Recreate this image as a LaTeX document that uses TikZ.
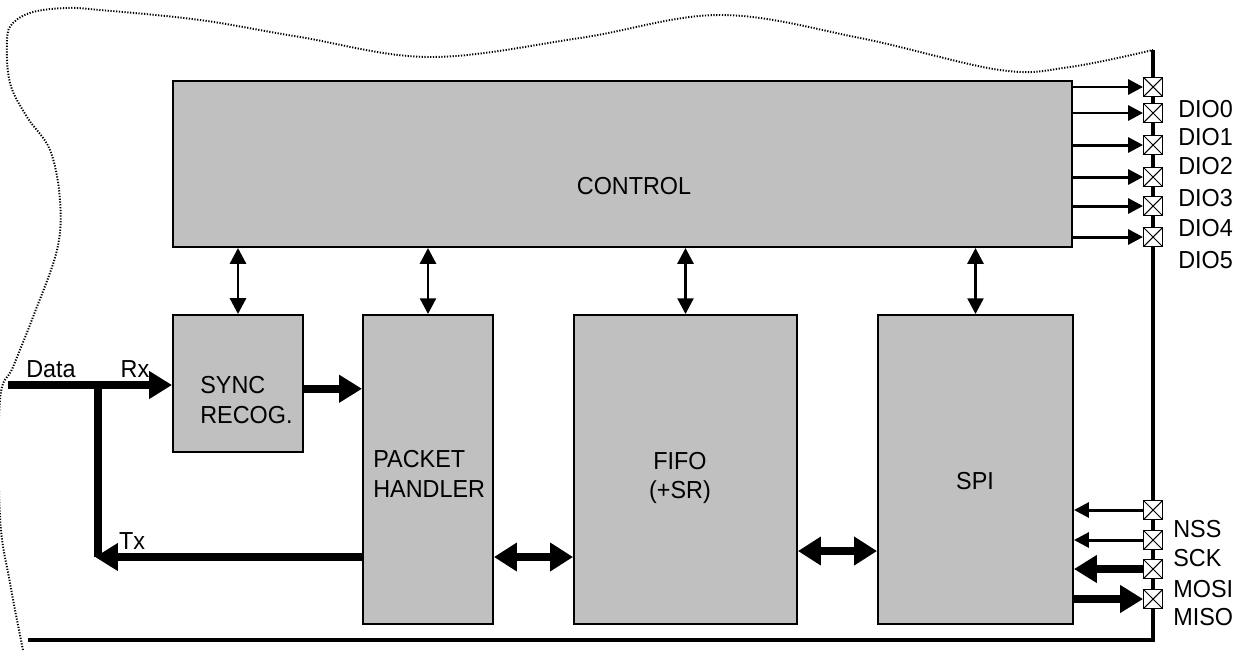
\documentclass[tikz,border=0pt]{standalone}
\usepackage{fontspec}
\setmainfont[FakeStretch=0.95]{Liberation Sans}
\usetikzlibrary{arrows.meta}
\definecolor{boxgray}{RGB}{192,192,192}

\begin{document}
\begin{tikzpicture}[x=0.02cm, y=-0.02cm,
    block/.style={draw, fill=boxgray, line width=1.1pt, inner sep=0pt},
    txt/.style={font=\fontsize{14}{17}\selectfont, inner sep=0pt},
    pad/.style={draw, fill=white, line width=0.8pt, minimum size=10.5pt, inner sep=0pt,
        path picture={\draw[line width=0.6pt] (path picture bounding box.north west) -- (path picture bounding box.south east)
            (path picture bounding box.north east) -- (path picture bounding box.south west);}},
    thin/.style={line width=1.7pt, -{Triangle[length=8.5pt, width=8.5pt]}},
    duplex/.style={line width=1.7pt, {Triangle[length=9pt, width=9pt]}-{Triangle[length=9pt, width=9pt]}},
    fat/.style={line width=4.5pt, -{Triangle[length=13pt, width=15pt]}},
    fatduplex/.style={line width=5pt, {Triangle[length=13pt, width=15.5pt]}-{Triangle[length=13pt, width=15.5pt]}}]

    \useasboundingbox (0,0) rectangle (1238,650);

    \draw[line width=1.1pt, dash pattern=on 0.7pt off 0.9pt] plot[smooth, tension=0.6] coordinates {(23,650) (10,583) (0,517) (0,400) (13,367) (33,317) (57,250) (60,200) (50,150) (27,117) (10,83) (7,40) (13,23) (33,12) (67,8) (100,10) (200,20) (300,37) (430,57) (580,38) (720,15) (860,38) (1000,70) (1070,67) (1153,50)};

    \coordinate (bustop) at (1153,50);
    \coordinate (buscorner) at (1153,640);
    \coordinate (busend) at (28,640);
    \draw[line width=1.8pt] (bustop) -- (buscorner) -- (busend);

    \node[block, minimum width=17.98cm, minimum height=3.32cm] (control) at (622.5,164) {};
    \node[block, minimum width=2.6cm, minimum height=2.74cm] (sync) at (238,383.5) {};
    \node[block, minimum width=2.6cm, minimum height=6.18cm] (packet) at (428,469.5) {};
    \node[block, minimum width=4.46cm, minimum height=6.18cm] (fifo) at (685.5,469.5) {};
    \node[block, minimum width=3.9cm, minimum height=6.18cm] (spi) at (975.5,469.5) {};

    \node[txt] (controltxt) at (634,186) {CONTROL};
    \node[txt, align=left, anchor=west] (synctxt) at (200,400) {SYNC\\RECOG.};
    \node[txt, align=left, anchor=west] (packettxt) at (373,473.5) {PACKET\\HANDLER};
    \node[txt, align=center] (fifotxt) at (680,478) {FIFO\\(+SR)};
    \node[txt] (spitxt) at (975,481) {SPI};

    \foreach \b in {sync, packet, fifo, spi}
        \draw[duplex] (\b.north) -- (\b.north |- control.south);

    \coordinate (datain) at (8,385);
    \coordinate (split) at (98,385);
    \coordinate (txend) at (95,557);
    \draw[fat] (datain) -- (datain -| sync.west);
    \draw[line width=4.5pt] (split) -- (split |- txend);
    \draw[fat] (packet.west |- txend) -- (txend);
    \draw[fat] ([yshift=-3pt]sync.east) -- ([yshift=-3pt]sync.east -| packet.west);
    \draw[fatduplex] (packet.east |- txend) -- (fifo.west |- txend);
    \draw[fatduplex] ([yshift=3.4pt]fifo.east |- txend) -- ([yshift=3.4pt]spi.west |- txend);

    \node[txt] (datalbl) at (51,369) {Data};
    \node[txt] (rxlbl) at (135,369) {Rx};
    \node[txt] (txlbl) at (132,541) {Tx};

    \foreach \i/\py/\ly in {0/87/109, 1/113/137, 2/145/166, 3/177/198, 4/206/228, 5/237/260} {
        \node[pad] (dio\i) at (1153,\py) {};
        \draw[thin] (control.east |- dio\i) -- (dio\i.west);
        \node[txt, anchor=west] (dio\i lbl) at (1178,\ly) {DIO\i};
    }

    \node[pad] (nss) at (1153,510) {};
    \node[pad] (sck) at (1153,540) {};
    \node[pad] (mosi) at (1153,569) {};
    \node[pad] (miso) at (1153,599) {};
    \draw[thin] (nss.west) -- (nss -| spi.east);
    \draw[thin] (sck.west) -- (sck -| spi.east);
    \draw[fat] (mosi.west) -- (mosi -| spi.east);
    \draw[fat] (miso -| spi.east) -- (miso.west);
    \node[txt, anchor=west] (nsslbl) at (1173,529) {NSS};
    \node[txt, anchor=west] (scklbl) at (1173,558) {SCK};
    \node[txt, anchor=west] (mosilbl) at (1173,589) {MOSI};
    \node[txt, anchor=west] (misolbl) at (1173,617) {MISO};
\end{tikzpicture}
\end{document}
